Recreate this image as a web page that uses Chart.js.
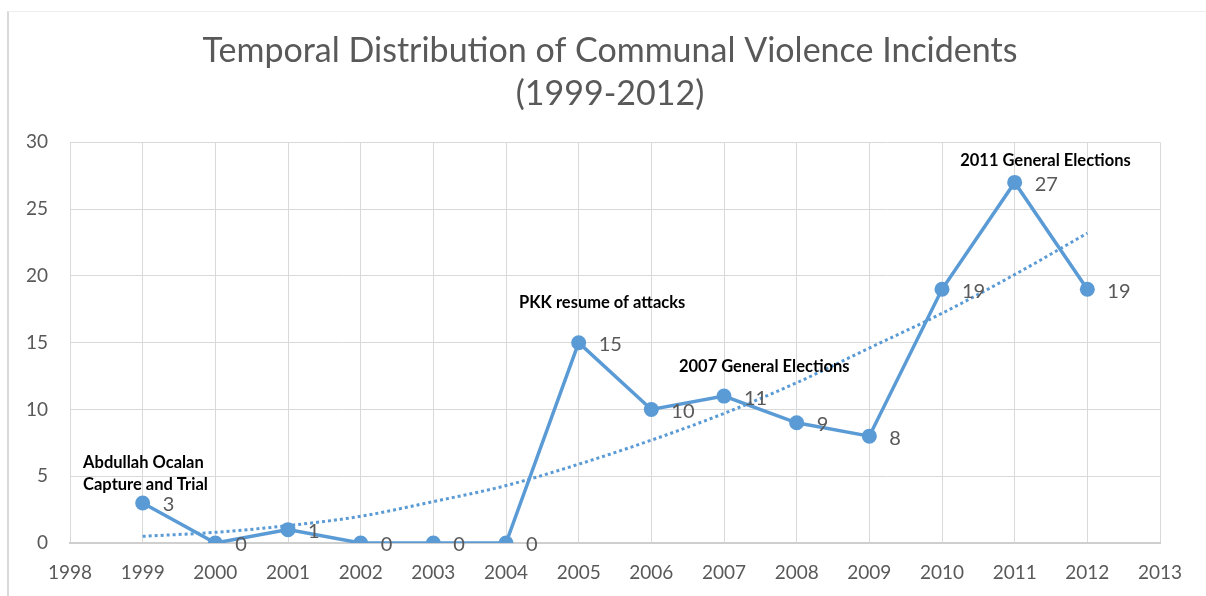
<!DOCTYPE html>
<html>
<head>
<meta charset="utf-8">
<script src="https://cdn.jsdelivr.net/npm/chart.js@4"></script>
<style>
  body { margin: 0; background: #fff; }
  .frame { position: absolute; left: 7px; top: 11px; right: 0; bottom: 0;
           border-left: 2px solid #d9d9d9; border-top: 1px solid #eeeeee; pointer-events: none; }
  canvas { position: absolute; left: 0; top: 0; }
</style>
</head>
<body>
<canvas id="incidentsChart" width="1206" height="596"></canvas>
<div class="frame"></div>
<script>
var years = [1999, 2000, 2001, 2002, 2003, 2004, 2005, 2006, 2007, 2008, 2009, 2010, 2011, 2012]
var incidents = [3, 0, 1, 0, 0, 0, 15, 10, 11, 9, 8, 19, 27, 19]
// trend line as it sits on the plot
var trend = [0.5, 0.8, 1.3, 2.0, 3.1, 4.3, 5.9, 7.7, 9.7, 12.0, 14.6, 17.2, 20.1, 23.2]
var events = ['Abdullah Ocalan', 'Capture and Trial', 'PKK resume of attacks', '2007 General Elections', '2011 General Elections']

var blue = '#5B9BD5'
var grey = '#595959'
var font = 'Lato, "Open Sans", sans-serif'

function pointsFrom(xs, ys) {
  return xs.map((x, i) => ({ x: x, y: ys[i] }))
}

// value labels to the right of each marker
var valueLabels = {
  id: 'valueLabels',
  afterDatasetsDraw: function(chart) {
    var ctx = chart.ctx
    var meta = chart.getDatasetMeta(0)
    ctx.save()
    ctx.font = '20px ' + font
    ctx.fillStyle = grey
    ctx.textBaseline = 'middle'
    meta.data.forEach(function(pt, i) {
      ctx.fillText(String(incidents[i]), pt.x + 20, pt.y + 2)
    })
    ctx.restore()
  }
}

// event notes, placed in axis units
var eventNotes = {
  id: 'eventNotes',
  afterDatasetsDraw: function(chart) {
    var ctx = chart.ctx
    var xs = chart.scales.x, ys = chart.scales.y
    var spots = [[1998.18, 6.05], [1998.18, 4.4], [2004.18, 17.98], [2006.38, 13.18], [2010.25, 28.6]]
    ctx.save()
    ctx.font = 'bold 16.5px ' + font
    ctx.fillStyle = '#000'
    ctx.textBaseline = 'middle'
    events.forEach(function(text, i) {
      ctx.fillText(text, xs.getPixelForValue(spots[i][0]), ys.getPixelForValue(spots[i][1]))
    })
    ctx.restore()
  }
}

var context = document.getElementById('incidentsChart').getContext('2d')
var incidentsChart = new Chart(context, {
  type: 'line',
  data: {
    datasets: [{
      label: 'Incidents',
      data: pointsFrom(years, incidents),
      borderColor: blue,
      backgroundColor: blue,
      borderWidth: 3.5,
      pointRadius: 7.5,
      pointBorderWidth: 0,
      lineTension: 0,
      fill: false
    }, {
      label: 'Trend',
      data: pointsFrom(years, trend),
      borderColor: blue,
      borderWidth: 3,
      borderDash: [3, 3],
      pointRadius: 0,
      cubicInterpolationMode: 'monotone',
      fill: false
    }]
  },
  options: {
    responsive: false,
    animation: false,
    layout: { padding: { top: 0, right: 0, bottom: 0, left: 14 } },
    plugins: {
      legend: { display: false },
      tooltip: { enabled: false },
      title: {
        display: true,
        text: ['Temporal Distribution of Communal Violence Incidents', '(1999-2012)'],
        color: grey,
        font: { family: font, size: 34, weight: 'normal', lineHeight: 1.27 },
        padding: { top: 29, bottom: 27 }
      }
    },
    scales: {
      x: {
        type: 'linear',
        min: 1998,
        max: 2013,
        ticks: {
          stepSize: 1,
          color: grey,
          padding: 18,
          font: { family: font, size: 19 },
          callback: (v) => String(v)
        },
        grid: { color: '#d9d9d9', drawTicks: false },
        border: { color: '#cfcfcf', width: 2 },
        afterFit: function(scale) { scale.height = 53 }
      },
      y: {
        min: 0,
        max: 30,
        ticks: { stepSize: 5, color: grey, padding: 22, font: { family: font, size: 19 } },
        grid: { color: '#d9d9d9', drawTicks: false },
        border: { display: false },
        afterFit: function(scale) { scale.width = 56 }
      },
      // empty strip keeping room right of the plot
      spacer: {
        position: 'right',
        min: 0,
        max: 30,
        ticks: { display: false },
        grid: { display: false, drawTicks: false },
        border: { display: false },
        afterFit: function(scale) { scale.width = 46 }
      }
    }
  },
  plugins: [valueLabels, eventNotes]
})
</script>
</body>
</html>
